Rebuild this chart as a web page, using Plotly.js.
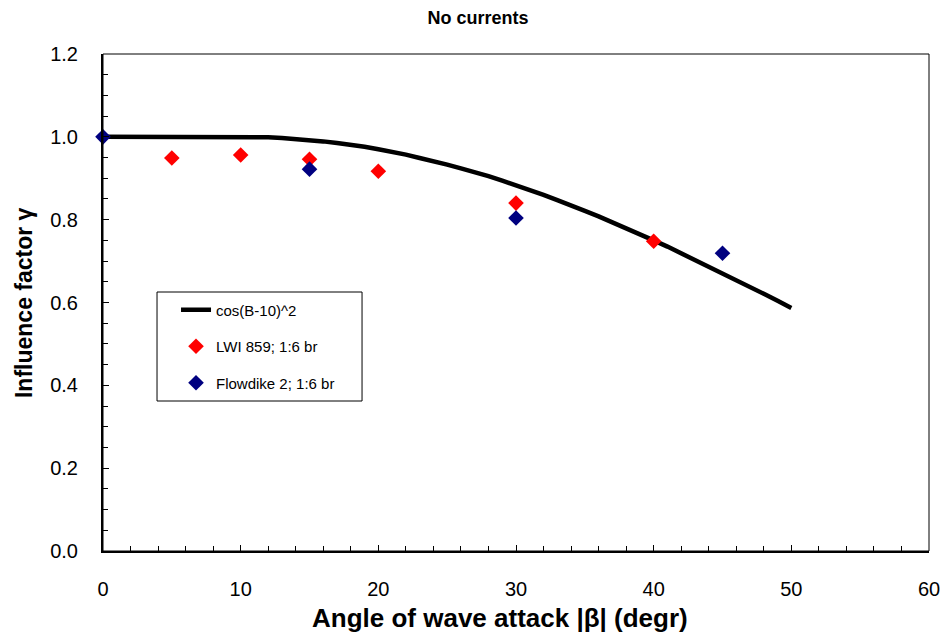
<!DOCTYPE html>
<html><head><meta charset="utf-8">
<script src="https://cdn.plot.ly/plotly-3.0.1.min.js"></script>
<style>html,body{margin:0;padding:0;background:#fff}</style>
</head><body>
<div id="chart" style="width:946px;height:642px"></div>
<script>
// Curve cos(B-10)^2, read at every degree
const curveX = [0,1,2,3,4,5,6,7,8,9,10,11,12,13,14,15,16,17,18,19,20,21,22,23,24,25,26,27,28,29,30,31,32,33,34,35,36,37,38,39,40,41,42,43,44,45,46,47,48,49,50];
const curveY = [1,1,1,1,1,1,1,1,1,1,1,1.000,0.999,0.997,0.995,0.992,0.989,0.985,0.981,0.976,0.970,0.964,0.957,0.949,0.942,0.933,0.924,0.915,0.905,0.894,0.883,0.872,0.860,0.847,0.835,0.821,0.808,0.794,0.780,0.765,0.750,0.735,0.719,0.703,0.687,0.671,0.655,0.638,0.621,0.604,0.587];
const lwiX = [5,10,15,20,30,40];
const lwiY = [0.949,0.956,0.946,0.917,0.840,0.748];
const flowX = [0,15,30,45];
const flowY = [1.0,0.922,0.804,0.719];
const names = ['cos(B-10)^2','LWI 859; 1:6 br','Flowdike 2; 1:6 br'];
const chartTitle = 'No currents';
const xTitle = 'Angle of wave attack |β| (degr)';
const yTitle = 'Influence factor γ';

const FONT = 'Liberation Sans, Arial, sans-serif';
const traces = [
  {x: curveX, y: curveY, mode:'lines', name: names[0], line:{color:'#000', width:4.5}, legendgroup:'a'},
  {x: lwiX, y: lwiY, mode:'markers', name: names[1], marker:{symbol:'diamond', color:'#FF0000', size:12}, legendgroup:'b', cliponaxis:false},
  {x: flowX, y: flowY, mode:'markers', name: names[2], marker:{symbol:'diamond', color:'#000080', size:12}, legendgroup:'c', cliponaxis:false}
];
const tickFont = {family:FONT, size:20, color:'#000'};
const layout = {
  width:946, height:642,
  margin:{l:103, r:17, t:54, b:91},
  paper_bgcolor:'#fff', plot_bgcolor:'#fff',
  title:{text:'<b>'+chartTitle+'</b>', font:{family:FONT, size:18, color:'#000'}, x:0.5053, xref:'container', xanchor:'center', y:0.972, yref:'container', yanchor:'middle'},
  xaxis:{range:[0,60], dtick:10, tick0:0, showgrid:false, zeroline:false,
    showline:true, linecolor:'#000', linewidth:2,
    ticks:'inside', ticklen:6, tickwidth:1, tickcolor:'#000',
    minor:{dtick:2, ticks:'inside', ticklen:5, tickcolor:'#000', showgrid:false},
    tickfont:tickFont, ticklabelstandoff:19},
  yaxis:{range:[0,1.2], dtick:0.2, tick0:0, tickformat:'.1f', showgrid:false, zeroline:false,
    showline:true, linecolor:'#000', linewidth:2,
    ticks:'inside', ticklen:6, tickwidth:1, tickcolor:'#000',
    minor:{dtick:0.05, ticks:'inside', ticklen:5, tickcolor:'#000', showgrid:false},
    tickfont:tickFont, ticklabelstandoff:19},
  annotations:[
    {text:'<b>'+xTitle+'</b>', xref:'paper', yref:'paper', x:0.4806, y:-0.1348, xanchor:'center', yanchor:'middle', showarrow:false, font:{family:FONT, size:26, color:'#000'}},
    {text:'<b>'+yTitle+'</b>', xref:'paper', yref:'paper', x:-0.0956, y:0.499, xanchor:'center', yanchor:'middle', textangle:-90, showarrow:false, font:{family:FONT, size:23, color:'#000'}}
  ],
  shapes:[
    {type:'rect', xref:'paper', yref:'paper', x0:0, x1:1, y0:0, y1:1, line:{color:'#000', width:1}, layer:'above'},
    {type:'rect', xref:'paper', yref:'paper', x0:0.0654, x1:0.3136, y0:0.3018, y1:0.5211, line:{color:'#000', width:1}, fillcolor:'rgba(0,0,0,0)', layer:'above'}
  ],
  showlegend:true,
  legend:{x:0.0884, y:0.518, xanchor:'left', yanchor:'top', bgcolor:'rgba(0,0,0,0)', borderwidth:0,
    font:{family:FONT, size:15, color:'#000'},
    traceorder:'grouped', tracegroupgap:14, itemwidth:30}
};
Plotly.newPlot('chart', traces, layout, {displayModeBar:false, staticPlot:true});
</script>
</body></html>
